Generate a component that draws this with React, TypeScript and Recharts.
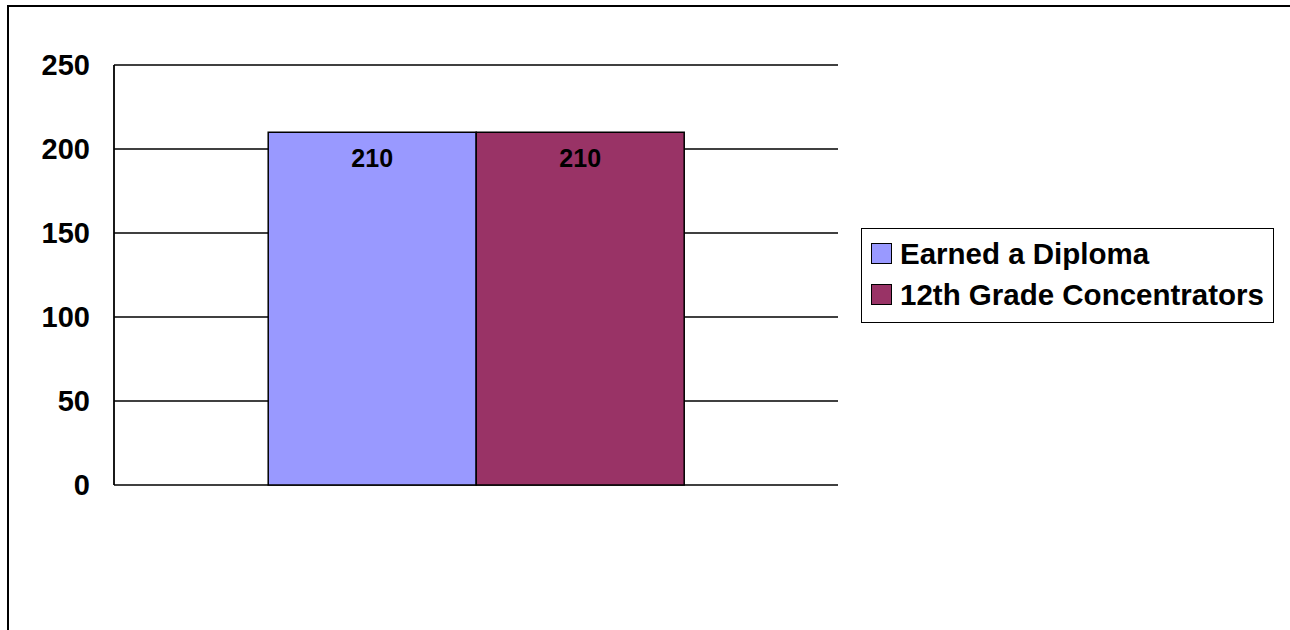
import { BarChart, Bar, XAxis, YAxis, CartesianGrid, LabelList } from "recharts";

const categories = [""];
const diplomaValues = [210];
const concentratorValues = [210];
const yTicks = [0, 50, 100, 150, 200, 250];

const SERIES = [
  { key: "diploma", name: "Earned a Diploma", color: "#9999FF" },
  { key: "concentrators", name: "12th Grade Concentrators", color: "#993366" },
];

const FONT = '"Liberation Sans", Arial, sans-serif';

const rows = categories.map((c, i) => ({
  name: c,
  diploma: diplomaValues[i],
  concentrators: concentratorValues[i],
}));

function LegendBox() {
  return (
    <div
      style={{
        position: "absolute",
        left: 861,
        top: 228,
        width: 411,
        height: 89,
        border: "1.5px solid #000",
        fontFamily: FONT,
        fontWeight: "bold",
        fontSize: 29.5,
        color: "#000",
        paddingTop: 4,
        boxSizing: "content-box",
      }}
    >
      {SERIES.map((s) => (
        <div key={s.key} style={{ display: "flex", alignItems: "center", height: 41, paddingLeft: 9 }}>
          <span
            style={{
              display: "inline-block",
              width: 19,
              height: 19,
              background: s.color,
              border: "1.5px solid #000",
              marginRight: 8,
            }}
          />
          <span style={{ lineHeight: "41px" }}>{s.name}</span>
        </div>
      ))}
    </div>
  );
}

export default function App() {
  return (
    <div style={{ position: "absolute", left: 0, top: 0, width: 1290, height: 630, overflow: "hidden", background: "#fff" }}>
      <div
        style={{
          position: "absolute",
          left: 7,
          top: 5,
          width: 1281,
          height: 700,
          borderLeft: "2px solid #000",
          borderTop: "2px solid #000",
        }}
      />
      <div style={{ position: "absolute", left: 0, top: 0 }}>
        <BarChart
          width={1290}
          height={630}
          data={rows}
          margin={{ top: 65, left: 34, right: 452, bottom: 145 }}
          barCategoryGap="21.3%"
          barGap={0}
        >
          <CartesianGrid vertical={false} stroke="#000" strokeWidth={1.5} />
          <XAxis dataKey="name" hide />
          <YAxis
            width={80}
            domain={[0, 250]}
            ticks={yTicks}
            interval={0}
            axisLine={{ stroke: "#000", strokeWidth: 1.8 }}
            tickLine={false}
            tickSize={0}
            tickMargin={24}
            tick={{ fill: "#000", fontFamily: FONT, fontWeight: "bold", fontSize: 29 }}
          />
          {SERIES.map((s) => (
            <Bar
              key={s.key}
              dataKey={s.key}
              name={s.name}
              fill={s.color}
              stroke="#000"
              strokeWidth={1.5}
              isAnimationActive={false}
            >
              <LabelList
                dataKey={s.key}
                position="insideTop"
                offset={17}
                fill="#000"
                fontFamily={FONT}
                fontWeight="bold"
                fontSize={25}
              />
            </Bar>
          ))}
        </BarChart>
      </div>
      <LegendBox />
    </div>
  );
}
